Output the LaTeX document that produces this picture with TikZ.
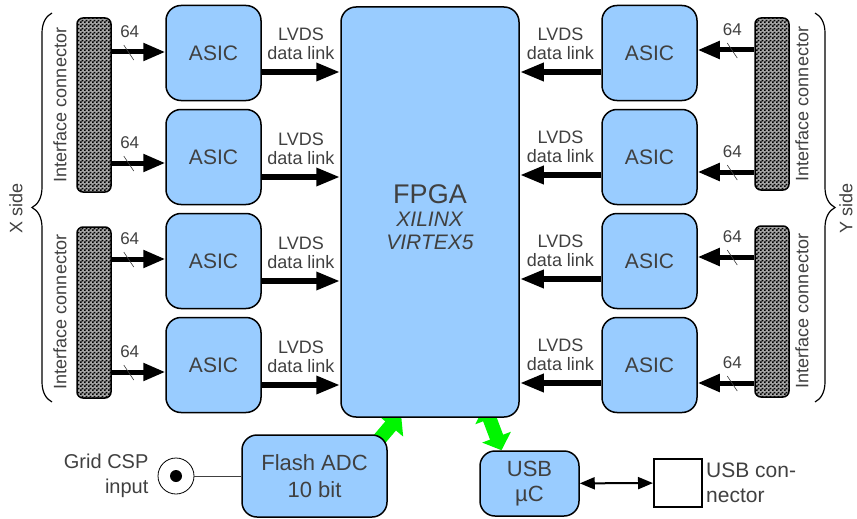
\documentclass[tikz,border=0pt]{standalone}
\usepackage{fontspec}
\setmainfont{Liberation Sans}
\usetikzlibrary{arrows.meta,patterns,decorations.pathreplacing,backgrounds,positioning}
\definecolor{boxblue}{RGB}{153,204,255}
\definecolor{txtgray}{RGB}{64,64,64}
\definecolor{linkgreen}{RGB}{0,245,0}
% fine checkerboard for the interface connectors
\pgfdeclarepatternformonly{checker}{\pgfqpoint{0pt}{0pt}}{\pgfqpoint{4pt}{4pt}}{\pgfqpoint{4pt}{4pt}}{%
  \pgfpathrectangle{\pgfqpoint{0pt}{0pt}}{\pgfqpoint{2pt}{2pt}}%
  \pgfpathrectangle{\pgfqpoint{2pt}{2pt}}{\pgfqpoint{2pt}{2pt}}%
  \pgfusepath{fill}}
\tikzset{
  block/.style={draw=black, line width=1.5pt, fill=boxblue, rounded corners=15pt,
    inner sep=0pt, text=txtgray, align=center},
  asic/.style={block, minimum width=95pt, minimum height=95pt, font=\fontsize{21}{24}\selectfont},
  plug/.style={draw=black, line width=1.5pt, rounded corners=6pt, fill=black!35,
    postaction={pattern=checker}, minimum width=34pt, inner sep=0pt},
  bus/.style={line width=5pt, -{Triangle[length=22pt,width=17pt]}},
  lvds/.style={line width=6pt, -{Triangle[length=24pt,width=17pt]}},
  tickmark/.style={draw=txtgray, line width=0.6pt},
  lbl/.style={text=txtgray, font=\fontsize{18}{19}\selectfont, align=center, inner sep=1pt},
  buswidth/.style={text=txtgray, font=\fontsize{17}{19}\selectfont, inner sep=1pt},
  sidelbl/.style={text=txtgray, font=\fontsize{18}{20}\selectfont, rotate=90},
  brace/.style={line width=1.2pt, decorate, decoration={brace, amplitude=20pt}},
  fatlink/.style={line width=14pt, draw=linkgreen},
}
\begin{document}
\begin{tikzpicture}[x=1pt,y=-1pt]
\useasboundingbox (0,0) rectangle (857,519);

% FPGA
\node[block, minimum width=178pt, minimum height=410pt] (fpga) at (430,212) {};
\node[text=txtgray, align=center, font=\fontsize{21}{23}\selectfont] (fpgalbl) at ([yshift=-5pt]fpga.center)
  {{\fontsize{27}{27}\selectfont FPGA}\\ \textit{XILINX}\\ \textit{VIRTEX5}};

% ASICs
\foreach \y [count=\i] in {53,157,261,365} {
  \node[asic] (aL\i) at (213.5,\y) {ASIC};
  \node[asic] (aR\i) at (649.5,\y) {ASIC};
}

% interface connectors
\node[plug, minimum height=174pt] (cL1) at (94,105) {};
\node[plug, minimum height=171pt] (cL2) at (94,312.5) {};
\node[plug, minimum height=172pt] (cR1) at (772,104) {};
\node[plug, minimum height=171pt] (cR2) at (772,311.5) {};
\node[sidelbl] at (60,105) {Interface connector};
\node[sidelbl] at (60,312) {Interface connector};
\node[sidelbl] at (802,104) {Interface connector};
\node[sidelbl] at (802,311) {Interface connector};

% buses and data links
\foreach \i/\c/\bl/\br/\ll/\lr in {1/1/-1/-3/19/19, 2/1/6/15/20/18, 3/2/-2/-4/20/18, 4/2/7/18/20/18} {
  % X side
  \path (aL\i.west) ++(0,\bl) coordinate (inL\i);
  \draw[bus] (inL\i -| cL\c.east) -- (inL\i);
  \draw[tickmark] (inL\i -| cL\c.east) ++(12,-7) -- ++(10,15);
  \path (inL\i -| cL\c.east) ++(18,-20) node[buswidth] {64};
  \path (aL\i.east) ++(0,\ll) coordinate (oL\i);
  \draw[lvds] (oL\i) -- (oL\i -| fpga.west) node[midway, above=8pt, lbl] {LVDS\\data link};
  % Y side
  \path (aR\i.east) ++(0,\br) coordinate (inR\i);
  \draw[bus] (inR\i -| cR\c.west) -- (inR\i);
  \draw[tickmark] (inR\i -| cR\c.west) ++(-27,-7) -- ++(10,15);
  \path (inR\i -| cR\c.west) ++(-22,-20) node[buswidth] {64};
  \path (aR\i.west) ++(0,\lr) coordinate (oR\i);
  \draw[lvds] (oR\i) -- (oR\i -| fpga.east) node[midway, above=8pt, lbl] {LVDS\\data link};
}

% sides
\draw[brace] (52,402) -- (52,13);
\draw[brace] (815,13) -- (815,402);
\node[sidelbl] at (16,208) {X side};
\node[sidelbl] at (846,208) {Y side};

% bottom row
\node[block, minimum width=145pt, minimum height=82pt, font=\fontsize{22}{27}\selectfont] (adc) at (314.5,476) {Flash ADC\\10 bit};
\node[block, minimum width=99pt, minimum height=65pt, font=\fontsize{22}{25}\selectfont] (usb) at (529.5,483.5) {USB\\µC};
\node[draw=black, line width=2pt, fill=white, minimum size=48pt, inner sep=0pt] (usbc) at (678,483) {};
\node[lbl, right=2pt of usbc, align=left, font=\fontsize{21}{25}\selectfont] (usbclbl) {USB con-\\nector};
\draw[line width=2pt, {Triangle[length=15pt,width=12pt]}-{Triangle[length=15pt,width=12pt]}] (usb) -- (usbc);

\node[draw=black, circle, line width=0.8pt, fill=white, minimum size=36pt, inner sep=0pt] (csp) at (176,476) {};
\node[circle, fill=black, minimum size=12pt, inner sep=0pt] (cspdot) at (csp.center) {};
\node[lbl, left=8pt of csp, align=right, font=\fontsize{20}{25}\selectfont] (csplbl) {Grid CSP\\input};
\draw[line width=1pt, draw=txtgray] (csp) -- (adc);

% links into the FPGA
\begin{scope}[on background layer]
  \draw[fatlink, -{Triangle[length=16pt,width=32pt]}] ([shift={(-11,8)}]adc.north east) -- ([shift={(-29,-4)}]fpga.south);
  \draw[fatlink, {Triangle[length=14pt,width=30pt]}-{Triangle[length=14pt,width=30pt]}] ([shift={(-35,-12)}]fpga.south east) -- ([xshift=-28pt]usb.north);
\end{scope}
\end{tikzpicture}
\end{document}
